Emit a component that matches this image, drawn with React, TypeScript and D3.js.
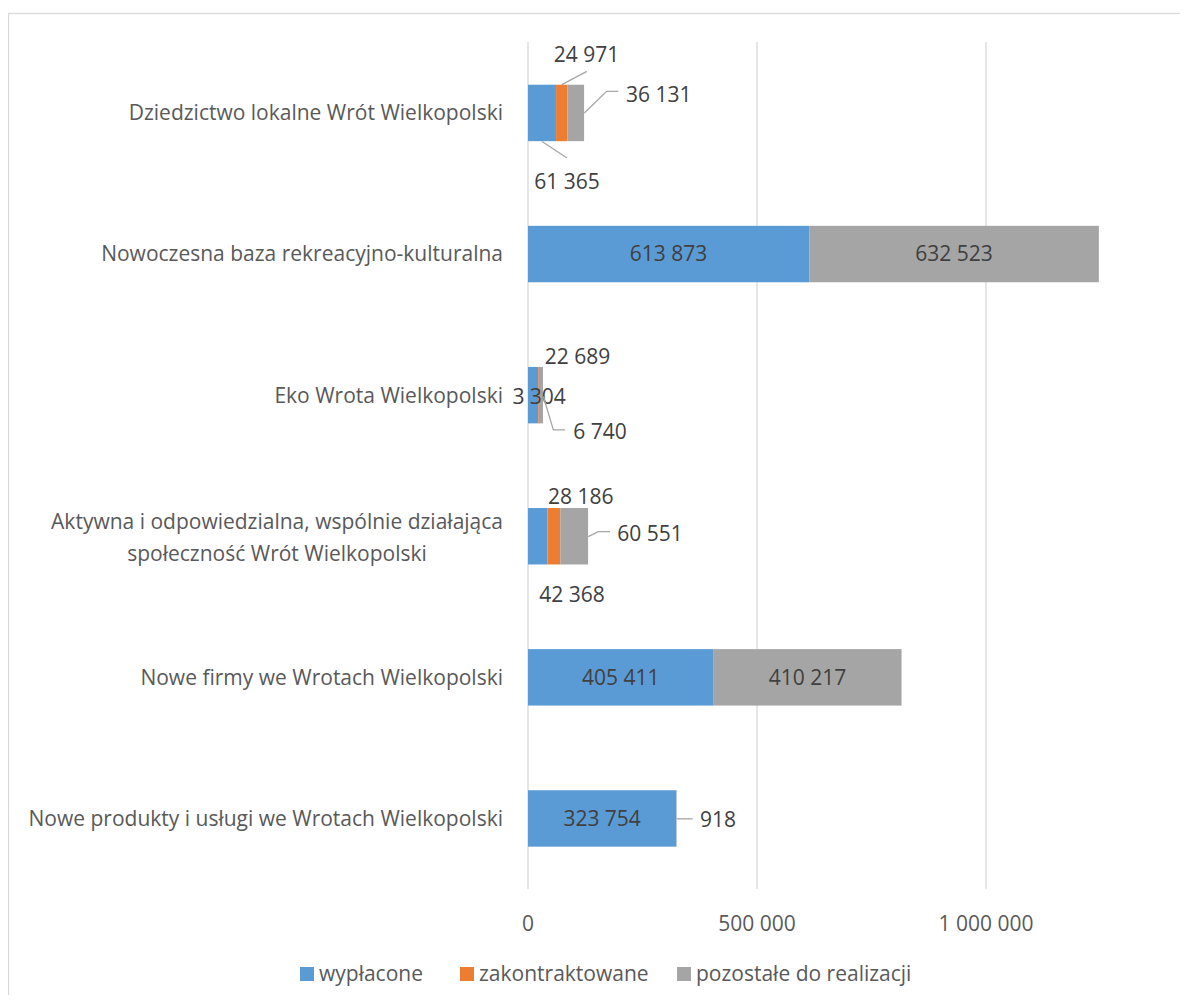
import React, { useEffect, useRef } from "react";
import * as d3 from "d3";

const categories = [
  "Dziedzictwo lokalne Wrót Wielkopolski",
  "Nowoczesna baza rekreacyjno-kulturalna",
  "Eko Wrota Wielkopolski",
  "Aktywna i odpowiedzialna, wspólnie działająca\nspołeczność Wrót Wielkopolski",
  "Nowe firmy we Wrotach Wielkopolski",
  "Nowe produkty i usługi we Wrotach Wielkopolski",
];
const seriesNames = ["wypłacone", "zakontraktowane", "pozostałe do realizacji"];
const wyplacone = [61365, 613873, 22689, 42368, 405411, 323754];
const zakontraktowane = [24971, 0, 3304, 28186, 0, 0];
const pozostale = [36131, 632523, 6740, 60551, 410217, 918];
const tickValues = [0, 500000, 1000000];
const colors = ["#5B9BD5", "#ED7D31", "#A5A5A5"];

// label placement (outside labels with callouts), relative to segment centre
type Place = { dx: number; dy: number; leader?: [number, number][] };
const placements: Record<string, Place> = {
  "0|0": { dx: 25, dy: 69, leader: [[0, 28.5], [25, 45]] },
  "0|1": { dx: 24.7, dy: -58, leader: [[0, -28.3], [25, -41.6]] },
  "0|2": { dx: 83, dy: -18, leader: [[8.5, 0], [30.8, -21.6], [42.5, -21.6]] },
  "2|0": { dx: 44.3, dy: -38.6 },
  "2|1": { dx: 0, dy: 1.4 },
  "2|2": { dx: 58.6, dy: 36.4, leader: [[1.9, 1.4], [11.9, 34.7], [23.6, 34.7]] },
  "3|0": { dx: 34.3, dy: 58.6 },
  "3|1": { dx: 26.8, dy: -39.7 },
  "3|2": { dx: 75.8, dy: -3.1, leader: [[14.1, 0.3], [24.1, -4.7], [35.8, -4.7]] },
  "5|2": { dx: 41.5, dy: 1.4, leader: [[0.2, 0.4], [16.2, 0.4]] },
};

const FONT = "'Open Sans', sans-serif";
const FS = 21;
const fmt = (v: number) => d3.format(",")(v).replace(/,/g, " ");

export default function App() {
  const ref = useRef<SVGSVGElement | null>(null);
  useEffect(() => {
    const svg = d3.select(ref.current!);
    svg.selectAll("*").remove();
    // offset: svg placed at (8,8) in page
    const g = svg.append("g").attr("transform", "translate(-8,-8)");

    g.append("rect")
      .attr("x", 8.5).attr("y", 13.5).attr("width", 1300).attr("height", 1100)
      .attr("fill", "white").attr("stroke", "#d9d9d9").attr("stroke-width", 1.3);

    const x = d3.scaleLinear().domain([0, 1000000]).range([528, 986]);
    const y = d3.scaleBand<string>().domain(categories).range([42.4, 889]).paddingInner(0.6).paddingOuter(0.3);

    // grid
    g.append("g").selectAll("line").data(tickValues).join("line")
      .attr("x1", (d) => x(d)).attr("x2", (d) => x(d))
      .attr("y1", 42).attr("y2", 889)
      .attr("stroke", "#d9d9d9").attr("stroke-width", 1.3);

    g.append("g").selectAll("text").data(tickValues).join("text")
      .attr("x", (d) => x(d)).attr("y", 924).attr("dy", "0.35em")
      .attr("text-anchor", "middle").attr("font-family", FONT).attr("font-size", FS)
      .attr("fill", "#595959").text((d) => fmt(d));

    const series = [wyplacone, zakontraktowane, pozostale];
    const stack = categories.map((_, i) => {
      let acc = 0;
      return series.map((s) => {
        const x0 = acc;
        acc += s[i];
        return { x0, x1: acc, v: s[i] };
      });
    });

    const bars = g.append("g");
    const labels = g.append("g");
    categories.forEach((c, i) => {
      const by = y(c)!;
      const bh = y.bandwidth();
      const cy = by + bh / 2;
      stack[i].forEach((seg, si) => {
        if (seg.v <= 0) return;
        const x0 = x(seg.x0), x1 = x(seg.x1);
        bars.append("rect").attr("x", x0).attr("y", by).attr("width", x1 - x0).attr("height", bh)
          .attr("fill", colors[si]);
        const cx = (x0 + x1) / 2;
        const p = placements[`${i}|${si}`];
        const lx = p ? cx + p.dx : cx;
        const ly = p ? cy + p.dy : cy;
        if (p && p.leader) {
          labels.append("polyline")
            .attr("points", p.leader.map(([a, b]) => `${cx + a},${cy + b}`).join(" "))
            .attr("fill", "none").attr("stroke", "#a6a6a6").attr("stroke-width", 1.3);
        }
        labels.append("text").attr("x", lx).attr("y", ly).attr("dy", "0.35em")
          .attr("text-anchor", "middle").attr("font-family", FONT).attr("font-size", FS)
          .attr("fill", "#404040").text(fmt(seg.v));
      });

      // category label
      const lines = c.split("\n");
      const t = g.append("text").attr("font-family", FONT).attr("font-size", FS).attr("fill", "#595959");
      if (lines.length === 1) {
        t.attr("x", 503).attr("y", cy).attr("dy", "0.35em").attr("text-anchor", "end").text(c);
      } else {
        const lh = 32;
        const spans = lines.map((l, li) =>
          t.append("tspan").attr("y", cy + 1.5 + (li - (lines.length - 1) / 2) * lh).attr("dy", "0.35em").text(l)
        );
        const w = Math.max(...spans.map((s) => (s.node() as SVGTSpanElement).getComputedTextLength()));
        spans.forEach((s) => s.attr("x", 503 - w / 2));
        t.attr("text-anchor", "middle");
      }
    });

    // legend
    const legX = [300, 460, 677];
    const lg = g.append("g");
    seriesNames.forEach((n, i) => {
      lg.append("rect").attr("x", legX[i]).attr("y", 967).attr("width", 14).attr("height", 14).attr("fill", colors[i]);
      lg.append("text").attr("x", legX[i] + 19).attr("y", 974).attr("dy", "0.35em")
        .attr("font-family", FONT).attr("font-size", FS).attr("fill", "#595959").text(n);
    });
  }, []);
  return <svg ref={ref} width={1172} height={987} style={{ display: "block" }} />;
}
